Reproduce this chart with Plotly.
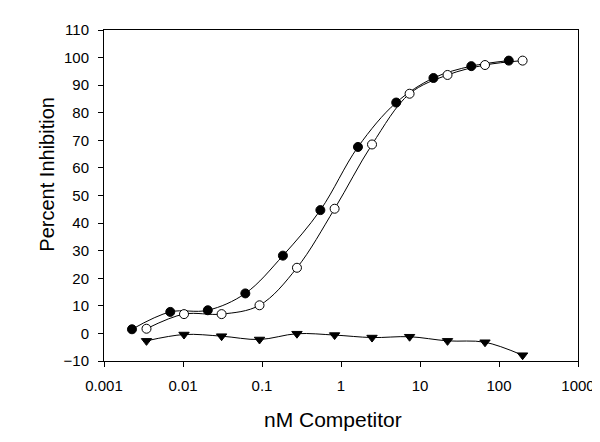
import plotly.graph_objects as go

# Filled circles series
x_filled = [0.00226, 0.0069, 0.0206, 0.0615, 0.184, 0.548, 1.64, 5.0, 14.8, 44.6, 133]
y_filled = [1.5, 7.8, 8.4, 14.5, 28.2, 44.7, 67.6, 83.7, 92.6, 96.9, 98.9]

# Open circles series
x_open = [0.00345, 0.0103, 0.0308, 0.093, 0.277, 0.83, 2.47, 7.38, 22.3, 66.5, 199]
y_open = [1.7, 7.0, 7.0, 10.2, 23.8, 45.2, 68.5, 86.9, 93.7, 97.3, 98.9]

# Filled triangles series
x_tri = [0.00345, 0.0103, 0.0308, 0.093, 0.277, 0.83, 2.47, 7.38, 22.3, 66.5, 199]
y_tri = [-2.7, -0.4, -1.0, -2.2, -0.1, -0.6, -1.5, -1.2, -2.7, -3.2, -7.9]

x_tickvals = [0.001, 0.01, 0.1, 1, 10, 100, 1000]
x_ticktext = ["0.001", "0.01", "0.1", "1", "10", "100", "1000"]
y_tickvals = list(range(-10, 111, 10))

x_title = "nM Competitor"
y_title = "Percent Inhibition"

FONT = "Liberation Sans, Arial, sans-serif"

fig = go.Figure()
line = dict(color="black", width=1, shape="spline", smoothing=1.0)
fig.add_trace(go.Scatter(x=x_filled, y=y_filled, mode="lines+markers", line=line,
                         marker=dict(symbol="circle", size=9, color="black",
                                     line=dict(color="black", width=1))))
fig.add_trace(go.Scatter(x=x_open, y=y_open, mode="lines+markers", line=line,
                         marker=dict(symbol="circle", size=9, color="white",
                                     line=dict(color="black", width=1))))
fig.add_trace(go.Scatter(x=x_tri, y=y_tri, mode="lines+markers", line=line,
                         marker=dict(symbol="triangle-down", size=9, color="black",
                                     line=dict(color="black", width=1))))

fig.update_layout(
    width=600, height=442,
    margin=dict(l=96, r=30, t=22, b=89),
    paper_bgcolor="white", plot_bgcolor="white",
    showlegend=False,
    font=dict(family=FONT, color="black", size=15),
    annotations=[
        dict(text=x_title, xref="paper", yref="paper", x=0.483, y=-0.178,
             xanchor="center", yanchor="middle", showarrow=False,
             font=dict(size=21, family=FONT, color="black")),
        dict(text=y_title, xref="paper", yref="paper", x=-0.121, y=0.565,
             xanchor="center", yanchor="middle", showarrow=False, textangle=-90,
             font=dict(size=20, family=FONT, color="black")),
    ],
)
fig.update_xaxes(type="log", range=[-3, 3], tickvals=x_tickvals, ticktext=x_ticktext,
                 ticks="outside", ticklen=5, tickcolor="black", showgrid=False,
                 zeroline=False, showline=True, linecolor="black", linewidth=1, mirror=True,
                 tickfont=dict(size=15), ticklabelstandoff=6)
fig.update_yaxes(range=[-10, 110], tickvals=y_tickvals,
                 ticks="outside", ticklen=5, tickcolor="black", showgrid=False,
                 zeroline=False, showline=True, linecolor="black", linewidth=1, mirror=True,
                 tickfont=dict(size=15), ticklabelstandoff=6)

fig.write_html("out.html")
